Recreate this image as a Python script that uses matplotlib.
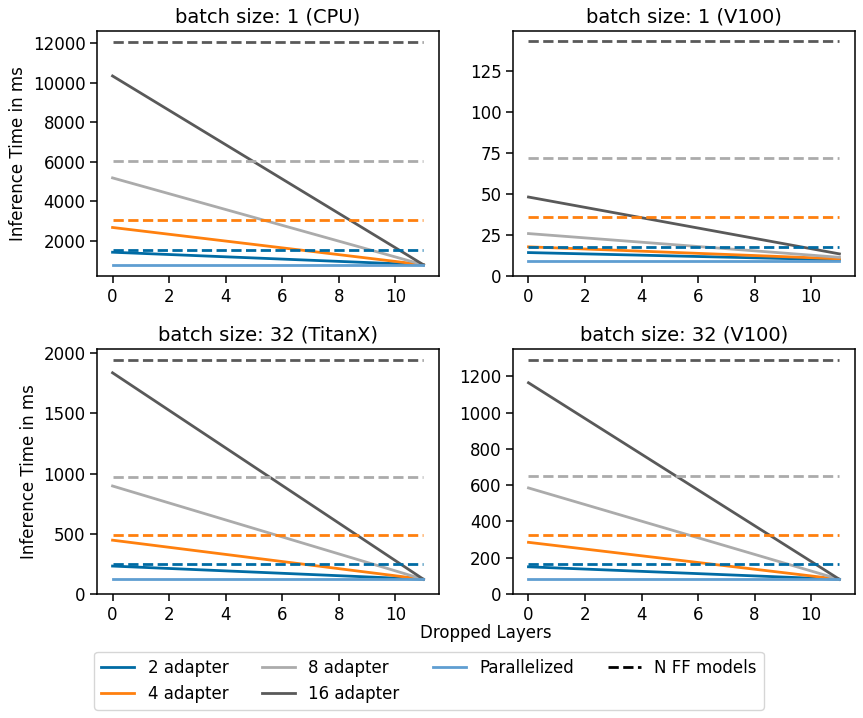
import matplotlib
matplotlib.use("Agg")
import matplotlib.pyplot as plt
from matplotlib.lines import Line2D

plt.rcParams["font.size"] = 12
plt.rcParams["axes.titlesize"] = 14
plt.rcParams["lines.linewidth"] = 2.0
plt.rcParams["xtick.major.size"] = 4.8
plt.rcParams["ytick.major.size"] = 4.8
plt.rcParams["xtick.major.width"] = 1.1
plt.rcParams["ytick.major.width"] = 1.1
plt.rcParams["axes.linewidth"] = 1.1

# dropped layers (start / end of each sweep)
layers = [0, 11]

titles = ["batch size: 1 (CPU)", "batch size: 1 (V100)",
          "batch size: 32 (TitanX)", "batch size: 32 (V100)"]
labels = ["2 adapter", "4 adapter", "8 adapter", "16 adapter"]
colors = ["#006BA4", "#FF800E", "#ABABAB", "#595959"]
par_color = "#5F9ED1"

# inference time (ms) for 2/4/8/16 adapters at layers 0 and 11
adapter_times = [
    [[1427, 790], [2680, 790], [5190, 790], [10350, 790]],
    [[14.4, 10.0], [17.9, 10.6], [26.0, 11.5], [48.3, 13.6]],
    [[232, 122], [447, 122], [897, 122], [1837, 122]],
    [[150, 81], [285, 81], [585, 81], [1165, 81]],
]
# parallelized model
parallel_times = [780, 9.1, 122, 81]
# N separate full fine-tuned models (2/4/8/16)
ff_times = [
    [1529, 3050, 6040, 12075],
    [17.9, 35.9, 72.0, 143.6],
    [249, 490, 972, 1947],
    [165, 325, 650, 1293],
]

fig, axes = plt.subplots(2, 2, figsize=(8.63, 7.18), dpi=100)
fig.subplots_adjust(left=0.1124, right=0.9907, bottom=0.1727, top=0.9572,
                    wspace=0.216, hspace=0.295)

for k, ax in enumerate(axes.flat):
    for i in range(4):
        ax.plot(layers, adapter_times[k][i], color=colors[i])
    ax.plot(layers, [parallel_times[k]] * 2, color=par_color)
    for i in range(4):
        ax.plot(layers, [ff_times[k][i]] * 2, color=colors[i], ls="--")
    ax.set_title(titles[k])
    ax.set_xticks([0, 2, 4, 6, 8, 10])
    if k > 0:
        ax.set_ylim(bottom=0)
    if k % 2 == 0:
        ax.set_ylabel("Inference Time in ms")
axes[0, 1].set_ylim(0, 149.8)

fig.text(420 / 863, 1 - 633 / 718, "Dropped Layers", ha="left", va="center")

handles = [Line2D([], [], color=c) for c in colors]
handles.append(Line2D([], [], color=par_color))
handles.append(Line2D([], [], color="black", ls="--"))
fig.legend(handles, labels + ["Parallelized", "N FF models"],
           loc="lower center", bbox_to_anchor=(0.497, 0.0), ncol=4)

fig.savefig("out.png", dpi=100)
